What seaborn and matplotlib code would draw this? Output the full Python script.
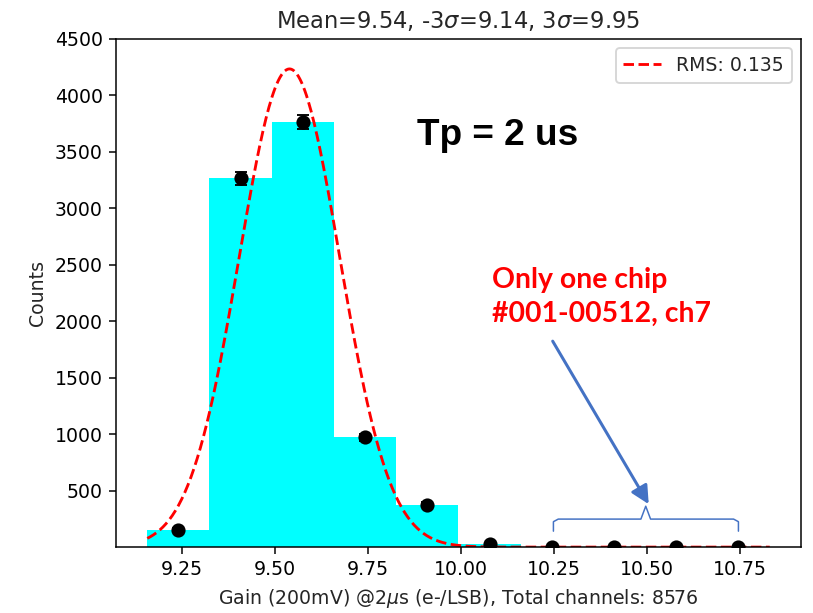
"""Gain histogram for Tp = 2 us, with a Gaussian fit and per-bin points."""

import matplotlib

matplotlib.use("Agg")

import matplotlib.pyplot as plt
import numpy as np
import pandas as pd
import seaborn as sns


# Bin edges of the gain histogram (e-/LSB)
EDGES = [9.158, 9.325, 9.492, 9.659, 9.827, 9.994, 10.161, 10.328, 10.495, 10.662, 10.830]
# Channels per bin
COUNTS = [155, 3268, 3766, 975, 376, 28, 1, 1, 1, 1]
# Poisson error bars on the points
ERRORS = [12, 57, 61, 31, 19, 5, 1, 1, 1, 1]

# Gaussian fit shown as the dashed curve
FIT_MEAN = 9.54
FIT_RMS = 0.135
FIT_PEAK = 4235

TITLE = r"Mean=9.54, -3$\sigma$=9.14, 3$\sigma$=9.95"
XLABEL = r"Gain (200mV) @2$\mu$s (e-/LSB), Total channels: 8576"

BLUE = "#4472C4"

edges = np.array(EDGES)
centers = (edges[:-1] + edges[1:]) / 2
hist = pd.DataFrame({"gain": centers, "counts": COUNTS, "err": ERRORS})

fit_x = np.linspace(edges[0], edges[-1], 400)
fit = pd.DataFrame(
    {"gain": fit_x, "counts": FIT_PEAK * np.exp(-0.5 * ((fit_x - FIT_MEAN) / FIT_RMS) ** 2)}
)

sns.set_style("ticks")
plt.rcParams["font.family"] = ["DejaVu Sans"]

fig = plt.figure(figsize=(813 / 136, 613 / 136), dpi=136)
ax = fig.add_axes([0.1427, 0.1077, 0.8425, 0.8287])

sns.histplot(
    data=hist,
    x="gain",
    weights="counts",
    bins=EDGES,
    color="cyan",
    alpha=1.0,
    edgecolor="none",
    linewidth=0,
    ax=ax,
)
sns.lineplot(
    data=fit,
    x="gain",
    y="counts",
    color="red",
    linestyle="--",
    linewidth=1.5,
    label=f"RMS: {FIT_RMS}",
    ax=ax,
)
ax.errorbar(
    hist["gain"],
    hist["counts"],
    yerr=hist["err"],
    fmt="o",
    color="black",
    markersize=6.5,
    capsize=3,
    zorder=4,
)

ax.set_xlim(9.074, 10.914)
ax.set_ylim(1, 4500)
ax.set_yticks([500, 1000, 1500, 2000, 2500, 3000, 3500, 4000, 4500])
ax.set_xlabel(XLABEL)
ax.set_ylabel("Counts")
ax.set_title(TITLE)
for side in ["top", "right", "left", "bottom"]:
    ax.spines[side].set_visible(True)
    ax.spines[side].set_color("black")
ax.tick_params(colors="black", length=3.5)
ax.legend(loc="upper right")

# slide annotations
ax.text(9.883, 3561, "Tp = 2 us", fontsize=19.6, fontweight="bold",
        family=["Liberation Sans"], color="black", va="baseline")
ax.text(10.085, 2294, "Only one chip", fontsize=15, fontweight="bold",
        family=["Lato"], color="red", va="baseline")
ax.text(10.085, 1996, "#001-00512, ch7", fontsize=15, fontweight="bold",
        family=["Lato"], color="red", va="baseline")
ax.annotate(
    "",
    xy=(10.505, 380),
    xytext=(10.247, 1824),
    arrowprops=dict(arrowstyle="-|>", color=BLUE, lw=1.6, mutation_scale=20,
                    shrinkA=0, shrinkB=0),
)
brace_x = [10.249, 10.249, 10.262, 10.484, 10.497, 10.510, 10.733, 10.746, 10.746]
brace_y = [141, 225, 248, 248, 362, 248, 248, 225, 141]
ax.plot(brace_x, brace_y, color=BLUE, lw=0.8)

fig.savefig("out.png", dpi=136)
